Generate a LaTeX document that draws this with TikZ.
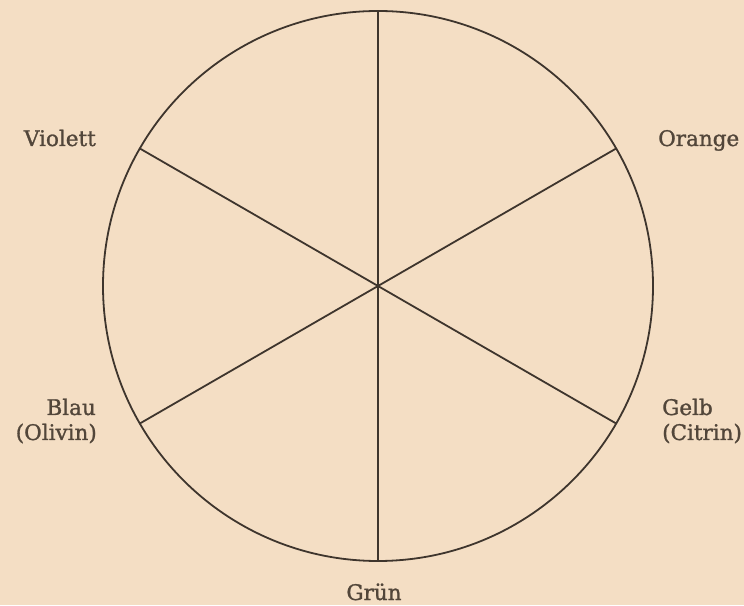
\documentclass[tikz,border=0pt]{standalone}
\usepackage{fontspec}
\setmainfont{DejaVu Serif}
\newfontfamily\lblfont{DejaVu Serif}[FakeBold=1.2]
\usetikzlibrary{calc}
\definecolor{paper}{RGB}{244,222,196}
\definecolor{ink}{RGB}{62,53,45}
\definecolor{textink}{RGB}{82,70,58}
\begin{document}
\begin{tikzpicture}[x=1pt,y=1pt,
  spoke/.style={draw=ink,line width=1.8pt},
  rim/.style={draw=ink,line width=1.8pt},
  lbl/.style={text=textink,font=\lblfont\fontsize{21.5}{25}\selectfont,inner sep=0pt}]
\fill[paper] (0,0) rectangle (744,605);
\useasboundingbox (0,0) rectangle (744,605);
\coordinate (c) at (378,319);
\draw[rim] (c) circle[radius=275];
\foreach \a/\n in {90/t,30/o,-30/g,-90/b,210/bl,150/v}{
  \coordinate (\n) at ($(c)+(\a:275)$);
}
\draw[spoke] (t) -- (b);
\draw[spoke] (v) -- (g);
\draw[spoke] (o) -- (bl);
\node[lbl,anchor=base east] (violett) at (96,459) {Violett};
\node[lbl,anchor=base west] (orange) at (658,459) {Orange};
\node[lbl,anchor=base east] (blau) at (96,190) {Blau};
\node[lbl,anchor=base east] (olivin) at (97,165) {(Olivin)};
\node[lbl,anchor=base west] (gelb) at (662,190) {Gelb};
\node[lbl,anchor=base west] (citrin) at (662,165) {(Citrin)};
\node[lbl,anchor=base] (gruen) at (374,5) {Grün};
\end{tikzpicture}
\end{document}
